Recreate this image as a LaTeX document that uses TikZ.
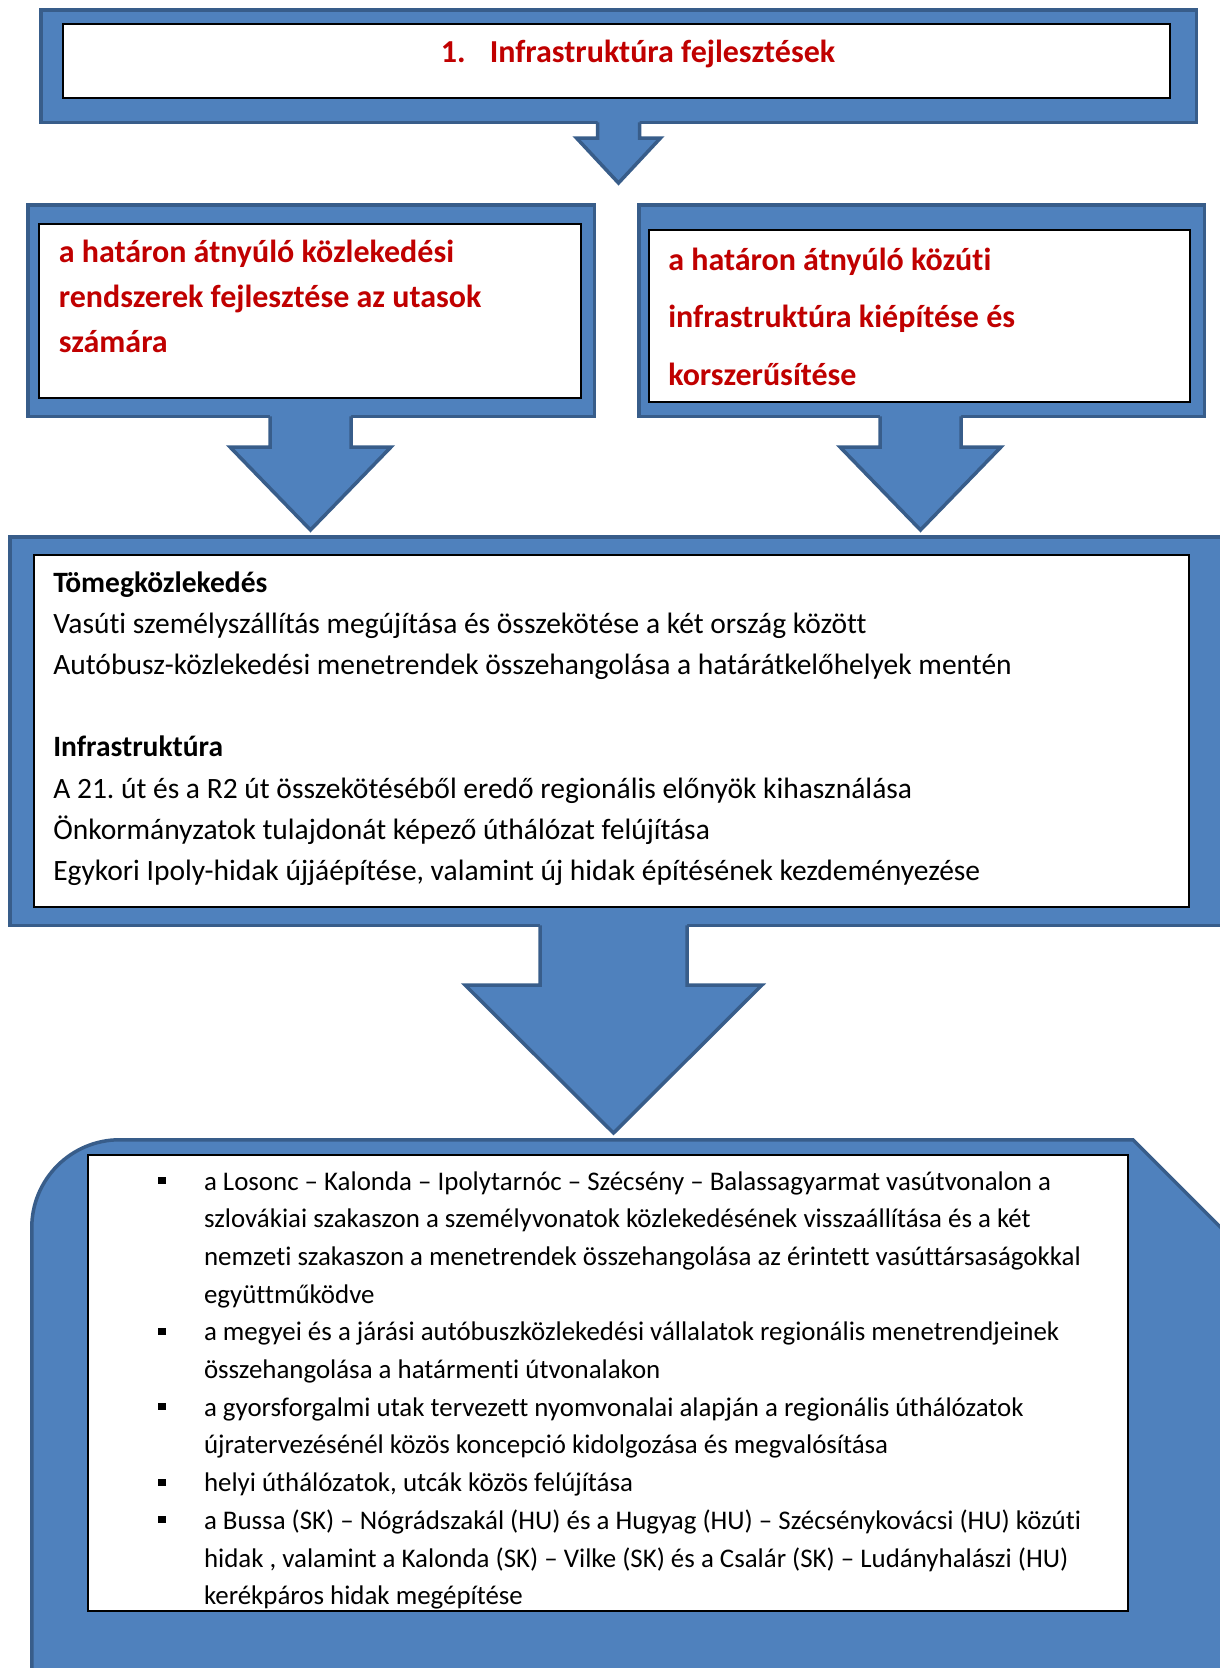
\documentclass[tikz,border=0pt]{standalone}
\usepackage{fontspec}
\setmainfont{Carlito}[Ligatures=NoCommon]
\usetikzlibrary{calc}
\frenchspacing

\definecolor{boxblue}{HTML}{4F81BD}
\definecolor{edgeblue}{HTML}{385D8A}
\definecolor{headred}{HTML}{C00000}

\tikzset{
	bluefill/.style={fill=boxblue, draw=edgeblue, line width=3.5pt},
	frame/.style={bluefill, rectangle, inner sep=0pt, outer sep=0pt},
	card/.style={rectangle, fill=white, draw=black, line width=1.6pt, inner sep=0pt, outer sep=0pt},
	arrowedge/.style={draw=edgeblue, line width=3.5pt},
	words/.style={anchor=base west, inner sep=0pt, outer sep=0pt},
	redwords/.style={words, text=headred, font=\fontsize{32}{#1}\selectfont\bfseries},
}

\newcommand{\flowarrow}[5]{%
	\fill[boxblue] let \p1 = (#2), \p2 = (#1.south) in
		(\x1-#3pt,\y2+6pt) -- (\x1-#3pt,\y1+#5pt) -- (\x1-#4pt,\y1+#5pt) -- (#2)
		-- (\x1+#4pt,\y1+#5pt) -- (\x1+#3pt,\y1+#5pt) -- (\x1+#3pt,\y2+6pt) -- cycle;
	\draw[arrowedge] let \p1 = (#2), \p2 = (#1.south) in
		(\x1-#3pt,\y2) -- (\x1-#3pt,\y1+#5pt) -- (\x1-#4pt,\y1+#5pt) -- (#2)
		-- (\x1+#4pt,\y1+#5pt) -- (\x1+#3pt,\y1+#5pt) -- (\x1+#3pt,\y2);
}
\newcommand{\listmark}{\llap{\raisebox{6pt}{\rule{8pt}{7pt}}\hspace{38pt}}}

\begin{document}
\begin{tikzpicture}[x=1pt, y=-1pt]
	\useasboundingbox (0,0) rectangle (1220,1668);
	\clip (0,0) rectangle (1220,1668);

	\node[frame, minimum width=1155.5, minimum height=112.5] (f1) at (618.5,66) {};
	\node[frame, minimum width=566.5, minimum height=211.5] (f2) at (311,310.5) {};
	\node[frame, minimum width=565.5, minimum height=211.5] (f3) at (921.5,310.5) {};
	\node[frame, minimum width=1230, minimum height=388.5] (f4) at (625,731) {};
	\draw[bluefill] (31.75,1700) -- (31.75,1227.75) .. controls (31.75,1179.15) and (71.15,1139.75) .. (119.75,1139.75)
		-- (1133,1139.75) -- (1250,1256.75) -- (1250,1700) -- cycle;

	\coordinate (tip1) at (618.5,183);
	\coordinate (tip2) at (310.5,530);
	\coordinate (tip3) at (920.5,530);
	\coordinate (tip4) at (613.5,1133);

	\flowarrow{f1}{tip1}{21}{42}{45}
	\flowarrow{f2}{tip2}{40.5}{80.5}{83}
	\flowarrow{f3}{tip3}{40.5}{80.5}{83}
	\flowarrow{f4}{tip4}{73.5}{148.5}{148}

	\node[card, minimum width=1107.4, minimum height=74.4] (c1) at (616.5,61) {};
	\node[card, minimum width=542.4, minimum height=174.4] (c2) at (310,311) {};
	\node[card, minimum width=541.4, minimum height=172.4] (c3) at (919.5,316) {};
	\node[card, minimum width=1155.4, minimum height=352.4] (c4) at (611.5,731) {};
	\node[card, minimum width=1040.4, minimum height=456.4] (c5) at (608,1383) {};

	\node[redwords=45] (goal) at ([shift={(378,39)}]c1.north west) {\makebox[49pt][l]{1.}Infrastruktúra fejlesztések};
	\node[redwords=45] (passenger) at ([shift={(20,39)}]c2.north west) {\begin{tabular}[t]{@{}l@{}}
		a határon átnyúló közlekedési\\rendszerek fejlesztése az utasok\\számára\end{tabular}};
	\node[redwords=57.5] (road) at ([shift={(19.5,40.5)}]c3.north west) {\begin{tabular}[t]{@{}l@{}}
		a határon átnyúló közúti\\infrastruktúra kiépítése és\\korszerűsítése\end{tabular}};
	\node[words, font=\fontsize{29.5}{41.2}\selectfont] (measures) at ([shift={(19.5,37.2)}]c4.north west) {\begin{tabular}[t]{@{}l@{}}
		\textbf{Tömegközlekedés}\\
		Vasúti személyszállítás megújítása és összekötése a két ország között\\
		Autóbusz-közlekedési menetrendek összehangolása a határátkelőhelyek mentén\\[41.2pt]
		\textbf{Infrastruktúra}\\
		A 21. út és a R2 út összekötéséből eredő regionális előnyök kihasználása\\
		Önkormányzatok tulajdonát képező úthálózat felújítása\\
		Egykori Ipoly-hidak újjáépítése, valamint új hidak építésének kezdeményezése\end{tabular}};
	\node[words, font=\fontsize{26.9}{37.7}\selectfont] (projects) at ([shift={(116.2,35.2)}]c5.north west) {\begin{tabular}[t]{@{}l@{}}
		\listmark a Losonc – Kalonda – Ipolytarnóc – Szécsény – Balassagyarmat vasútvonalon a\\
		szlovákiai szakaszon a személyvonatok közlekedésének visszaállítása és a két\\
		nemzeti szakaszon a menetrendek összehangolása az érintett vasúttársaságokkal\\
		együttműködve\\
		\listmark a megyei és a járási autóbuszközlekedési vállalatok regionális menetrendjeinek\\
		összehangolása a határmenti útvonalakon\\
		\listmark a gyorsforgalmi utak tervezett nyomvonalai alapján a regionális úthálózatok\\
		újratervezésénél közös koncepció kidolgozása és megvalósítása\\
		\listmark helyi úthálózatok, utcák közös felújítása\\
		\listmark a Bussa (SK) – Nógrádszakál (HU) és a Hugyag (HU) – Szécsénykovácsi (HU) közúti\\
		hidak , valamint a Kalonda (SK) – Vilke (SK) és a Csalár (SK) – Ludányhalászi (HU)\\
		kerékpáros hidak megépítése\end{tabular}};
\end{tikzpicture}
\end{document}
